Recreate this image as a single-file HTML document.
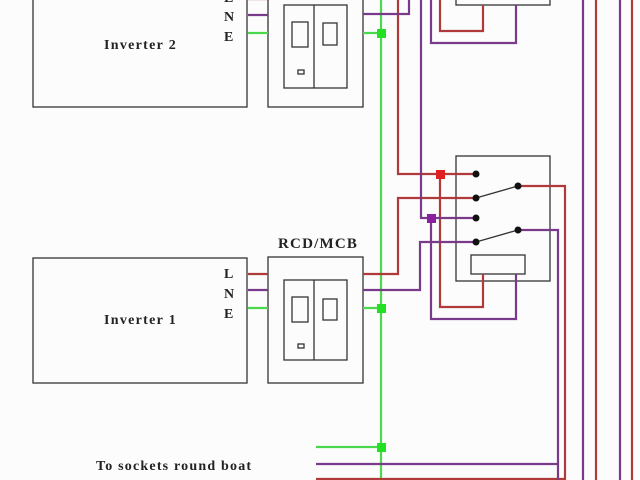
<!DOCTYPE html>
<html><head><meta charset="utf-8"><style>
html,body{margin:0;padding:0;background:#fdfdfd;}
svg{display:block}
text{font-family:"Liberation Serif",serif;font-weight:bold;fill:#222}
</style></head><body>
<svg width="640" height="480" viewBox="0 0 640 480" xmlns="http://www.w3.org/2000/svg">
<rect width="640" height="480" fill="#fcfcfc"/>
<g fill="none" stroke="#333" stroke-width="1.3">
<rect x="33" y="-5" width="214" height="112"/>
<rect x="33" y="258" width="214" height="125"/>
<rect x="268" y="-5" width="95" height="112"/>
<rect x="284" y="5" width="63" height="83"/><line x1="314" y1="5" x2="314" y2="88"/>
<rect x="292" y="22" width="16" height="25"/><rect x="323" y="23" width="14" height="22"/>
<rect x="298" y="70" width="6" height="4"/>
<rect x="268" y="257" width="95" height="126"/>
<rect x="284" y="280" width="63" height="80"/><line x1="314" y1="280" x2="314" y2="360"/>
<rect x="292" y="297" width="16" height="25"/><rect x="323" y="299" width="14" height="21"/>
<rect x="298" y="344" width="6" height="4"/>
<rect x="456" y="-5" width="94" height="10"/>
<rect x="456" y="156" width="94" height="125"/>
<rect x="471" y="255" width="54" height="19"/>
<line x1="476" y1="198" x2="518" y2="186"/>
<line x1="476" y1="242" x2="518" y2="230"/>
</g>
<g fill="none" stroke-width="2.2">
<g stroke="#4cd84c">
<line x1="381" y1="0" x2="381" y2="480"/>
<line x1="248" y1="33" x2="268" y2="33"/><line x1="363" y1="33" x2="381" y2="33"/>
<line x1="248" y1="308" x2="268" y2="308"/><line x1="363" y1="308" x2="381" y2="308"/>
<line x1="316" y1="447" x2="381" y2="447"/>
</g>
<g stroke="#b03a3a">
<line x1="248" y1="-1" x2="268" y2="-1"/>
<polyline points="398,0 398,174 476,174"/>
<polyline points="440,0 440,31 483,31 483,5"/>
<line x1="248" y1="274" x2="268" y2="274"/>
<polyline points="363,274 398,274 398,198 476,198"/>
<polyline points="483,274 483,307 440,307 440,174"/>
<polyline points="518,186 565,186 565,480"/>
<polyline points="316,479 565,479"/>
<line x1="596" y1="0" x2="596" y2="480"/>
<line x1="632" y1="0" x2="632" y2="480"/>
</g>
<g stroke="#7a3a8a">
<line x1="248" y1="15" x2="268" y2="15"/>
<polyline points="363,14 409,14 409,0"/>
<polyline points="421,0 421,218 476,218"/>
<polyline points="431,0 431,43 516,43 516,5"/>
<line x1="248" y1="290" x2="268" y2="290"/>
<polyline points="363,290 420,290 420,242 476,242"/>
<polyline points="516,274 516,319 431,319 431,218"/>
<polyline points="518,230 558,230 558,480"/>
<polyline points="316,464 558,464"/>
<line x1="583" y1="0" x2="583" y2="480"/>
<line x1="620" y1="0" x2="620" y2="480"/>
</g>
</g>
<rect x="377" y="29" width="9" height="9" fill="#22e022"/>
<rect x="377" y="304" width="9" height="9" fill="#22e022"/>
<rect x="377" y="443" width="9" height="9" fill="#22e022"/>
<rect x="436" y="170" width="9" height="9" fill="#e02020"/>
<rect x="427" y="214" width="9" height="9" fill="#8a20a0"/>
<g fill="#111">
<circle cx="476" cy="174" r="3.5"/><circle cx="476" cy="198" r="3.5"/>
<circle cx="476" cy="218" r="3.5"/><circle cx="476" cy="242" r="3.5"/>
<circle cx="518" cy="186" r="3.5"/><circle cx="518" cy="230" r="3.5"/>
</g>
<text x="104" y="49" font-size="14" letter-spacing="1.3">Inverter  2</text>
<text x="104" y="324" font-size="14" letter-spacing="1.3">Inverter  1</text>
<text x="224" y="2" font-size="14">L</text>
<text x="224" y="21" font-size="14">N</text>
<text x="224" y="41" font-size="14">E</text>
<text x="224" y="278" font-size="14">L</text>
<text x="224" y="298" font-size="14">N</text>
<text x="224" y="318" font-size="14">E</text>
<text x="278" y="248" font-size="15" letter-spacing="1.2">RCD/MCB</text>
<text x="96" y="470" font-size="14" letter-spacing="1.2">To sockets round boat</text>
</svg>
</body></html>
